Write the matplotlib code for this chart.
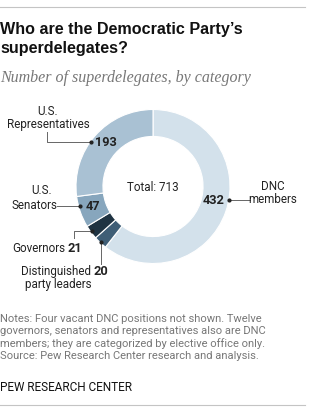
import matplotlib
matplotlib.use("Agg")
import matplotlib.pyplot as plt
from matplotlib.lines import Line2D

W, H = 310, 411

categories = ["DNC members", "Distinguished party leaders", "Governors", "U.S. Senators", "U.S. Representatives"]
counts = [432, 20, 21, 47, 193]
colors = ["#d3e1eb", "#3f5e76", "#1f3342", "#87a6bd", "#a9c1d3"]

SANS = ["Roboto", "DejaVu Sans"]
LABEL_COLOR = "#222222"
NOTE_COLOR = "#777777"


def fx(x):
    return x / W


def fy(y):
    return 1 - y / H


def label(x, y, s, **kw):
    # y is the baseline in pixels from the top
    opts = dict(family=SANS, fontsize=8.4, color=LABEL_COLOR, va="baseline")
    opts.update(kw)
    fig.text(fx(x), fy(y), s, **opts)


def number(x, y, n, **kw):
    label(x, y, str(n), fontweight="bold", fontsize=9.2, **kw)


def leader(xs, ys):
    fig.add_artist(Line2D([fx(x) for x in xs], [fy(y) for y in ys],
                          transform=fig.transFigure, color="#666666", lw=0.7))
    fig.add_artist(Line2D([fx(xs[-1])], [fy(ys[-1])], transform=fig.transFigure,
                          marker="o", ms=2, color="#222222", lw=0))


fig = plt.figure(figsize=(W / 100, H / 100), dpi=100)

# rules top and bottom
fig.add_artist(Line2D([0, fx(305)], [fy(7), fy(7)], transform=fig.transFigure, color="#c4c4c4", lw=0.8))
fig.add_artist(Line2D([0, fx(305)], [fy(405), fy(405)], transform=fig.transFigure, color="#c4c4c4", lw=0.8))

title_font = dict(fontsize=11.6, fontweight="bold", family=["Liberation Sans", "DejaVu Sans"],
                  va="baseline", ha="left", color="#111111")
fig.text(0, fy(34), "Who are the Democratic Party\u2019s", **title_font)
fig.text(0, fy(53), "superdelegates?", **title_font)
fig.text(0, fy(82), "Number of superdelegates, by category", fontsize=11.5, style="italic",
         family=["Liberation Serif", "DejaVu Serif"], color="#777777", va="baseline")

# donut
cx, cy, r = 153, 186.5, 77
ax = fig.add_axes([fx(cx - r), fy(cy + r), 2 * r / W, 2 * r / H])
ax.pie(counts, colors=colors, startangle=90, counterclock=False, radius=1,
       wedgeprops=dict(width=0.35, edgecolor="white", linewidth=0.8))
ax.set_xlim(-1, 1)
ax.set_ylim(-1, 1)
ax.set_axis_off()

label(cx, 191, "Total: %d" % sum(counts), ha="center")

# DNC members
label(273, 190, "DNC", ha="center")
label(273, 203, "members", ha="center")
number(203, 204, counts[0], ha="left")
leader([250, 229], [200, 200])

# U.S. Representatives
label(48, 115, "U.S.", ha="center")
label(48, 128, "Representatives", ha="center")
number(95, 146, counts[4], ha="left")
leader([47, 47, 91], [132, 142, 142])

# U.S. Senators
label(42, 194, "U.S.", ha="center")
label(34, 209, "Senators", ha="center")
number(86, 210, counts[3], ha="left")
leader([57, 80], [206, 206])

# Governors
label(12, 252, "Governors", ha="left")
number(82, 252, counts[2], ha="right")
leader([74, 74, 92], [238, 231, 231])

# Distinguished party leaders
label(21, 275, "Distinguished", ha="left")
number(108, 275, counts[1], ha="right")
label(25, 288, "party leaders", ha="left")
leader([101, 101], [264, 242])

notes = ["Notes: Four vacant DNC positions not shown. Twelve",
         "governors, senators and representatives also are DNC",
         "members; they are categorized by elective office only.",
         "Source: Pew Research Center research and analysis."]
for i, line in enumerate(notes):
    fig.text(0, fy(322 + 12.4 * i), line, family=SANS, fontsize=8, color=NOTE_COLOR,
             va="baseline")
fig.text(0, fy(391), "PEW RESEARCH CENTER", family=SANS, fontsize=8.5, color="#111111",
         va="baseline")

fig.savefig("out.png", dpi=100)
